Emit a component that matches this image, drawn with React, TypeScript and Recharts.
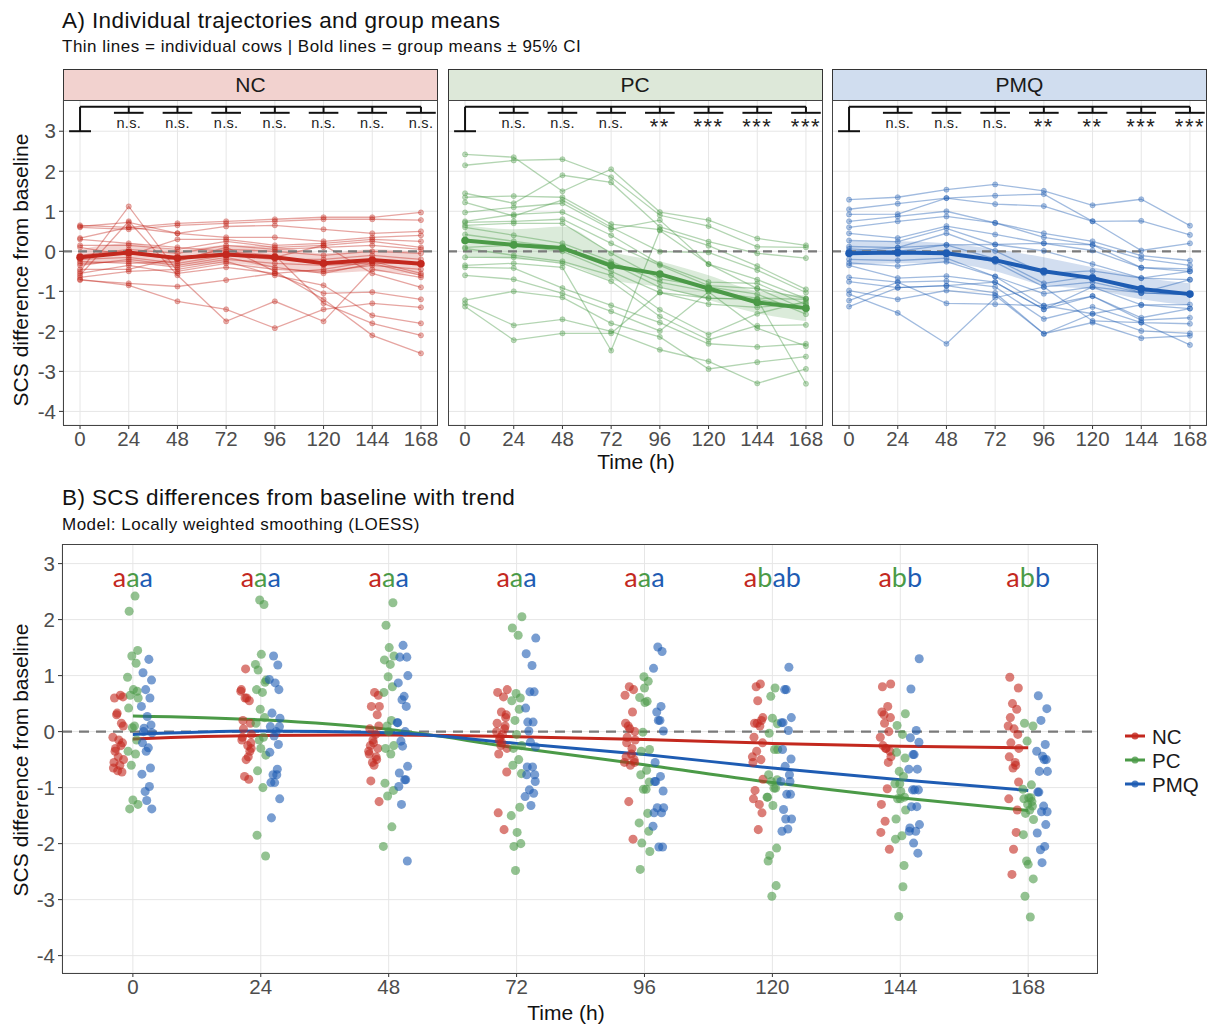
import React from 'react';
import { ComposedChart, Line, Area, Scatter, XAxis, YAxis, CartesianGrid, ReferenceLine } from 'recharts';

const times = [0, 24, 48, 72, 96, 120, 144, 168];
const yTicks = [-4, -3, -2, -1, 0, 1, 2, 3];

// individual cows, one row per cow, values at each time point
const cowsNC = [
  [0.65, 0.6, 0.7, 0.75, 0.8, 0.85, 0.85, 0.97],
  [0.6, 0.55, 0.65, 0.7, 0.75, 0.8, 0.8, 0.78],
  [0.62, 0.72, 0.45, 0.62, 0.65, 0.55, 0.45, 0.5],
  [0.33, 0.6, 0.45, 0.35, 0.35, 0.25, 0.35, 0.4],
  [0.15, 0.15, 0.05, 0.25, 0.1, 0.15, 0.25, 0.1],
  [-0.1, 0.05, -0.05, 0.15, 0.05, 0.1, 0.15, 0.05],
  [-0.15, -0.05, -0.2, 0.05, 0.0, -0.1, 0.0, -0.05],
  [-0.2, -0.15, -0.3, -0.1, -0.2, -0.2, -0.1, -0.2],
  [-0.3, -0.25, -0.4, -0.2, -0.3, -0.35, -0.3, -0.3],
  [-0.5, 1.12, -0.5, -0.3, -0.45, -0.5, -0.35, -0.45],
  [-0.55, -0.35, -0.55, -0.4, -0.55, -0.45, -0.25, -0.55],
  [-0.6, 0.75, -0.6, -1.75, -1.25, -1.75, -0.45, -0.65],
  [-0.7, -0.85, -1.25, -1.45, -1.92, -1.45, -1.3, -1.4],
  [-0.72, -0.8, -0.88, -0.72, -0.55, -1.05, -1.02, -1.2],
  [-0.65, -0.5, -0.45, -0.25, -0.6, -0.85, -1.6, -1.8],
  [-0.25, -0.3, -0.25, 0.1, -0.5, -1.2, -2.1, -2.55],
  [0.3, 0.2, 0.1, 0.0, -0.1, -1.3, -1.8, -2.1],
  [-0.45, -0.45, -0.15, -0.05, -0.15, 0.15, -0.55, -0.9],
  [0.1, -0.1, 0.3, 0.3, 0.15, 0.2, 0.3, 0.25],
  [-0.35, -0.2, -0.35, -0.15, -0.4, -0.55, -0.3, -0.6],
];

const cowsPC = [
  [2.42, 2.35, 1.5, 2.05, 0.98, 0.78, 0.32, 0.15],
  [2.15, 2.27, 2.3, 1.85, 0.9, 0.63, 0.11, 0.1],
  [1.45, 1.2, 1.9, 1.72, 0.61, 0.24, -0.05, -0.17],
  [1.35, 1.38, 1.35, 0.68, 0.54, 0.14, -0.37, -0.95],
  [1.22, 0.88, 1.28, 0.6, -0.01, -0.03, -0.47, -1.03],
  [0.97, 1.1, 1.2, 0.55, 0.78, -0.32, -0.71, -1.18],
  [0.75, 0.92, 0.98, 0.4, -0.32, -0.77, -0.8, -1.33],
  [0.72, 0.75, 0.8, 0.2, -0.35, -0.86, -0.93, -1.46],
  [0.65, 0.7, 0.7, -0.05, -0.69, -0.89, -1.07, -1.57],
  [0.6, 0.4, 0.2, -0.25, -0.77, -1.01, -1.17, -1.2],
  [0.42, 0.25, 0.1, -0.3, -0.9, -1.17, -1.2, -1.4],
  [0.1, 0.15, 0.0, -0.5, -1.03, -1.32, -1.4, -1.3],
  [0.07, -0.1, -0.25, -0.6, -1.46, -2.08, -1.56, -1.25],
  [-0.15, -0.15, -0.3, -0.75, -1.63, -2.21, -1.86, -1.84],
  [-0.35, -0.3, -0.4, -2.48, 0.52, -0.32, -0.93, -1.18],
  [-0.4, -0.42, -0.92, -1.35, -1.78, -2.31, -2.39, -2.31],
  [-0.6, -0.7, -1.05, -1.5, -1.99, -1.01, -1.92, -2.37],
  [-1.22, -1.0, -1.15, -1.8, -2.14, -2.94, -2.77, -2.63],
  [-1.3, -1.85, -1.7, -2.0, -2.46, -2.75, -3.3, -2.94],
  [-1.38, -2.22, -2.05, -2.05, -1.03, -1.17, -1.2, -3.31],
];

const cowsPMQ = [
  [1.29, 1.35, 1.54, 1.67, 1.51, 1.15, 1.3, 0.64],
  [1.05, 1.19, 1.33, 1.39, 1.43, 0.75, 0.76, 0.41],
  [0.92, 0.93, 1.33, 1.18, 1.13, 0.75, 0.02, 0.2],
  [0.75, 0.87, 1.0, 0.71, 0.45, 0.25, -0.11, -0.23],
  [0.6, 0.75, 0.87, 0.71, 0.35, 0.16, -0.19, -0.35],
  [0.45, 0.33, 0.63, 0.42, 0.2, 0.02, -0.41, -0.44],
  [0.27, 0.24, 0.57, 0.17, 0.01, -0.32, -0.67, -0.5],
  [0.12, 0.09, 0.45, 0.01, -0.55, -0.49, -0.67, -0.71],
  [0.06, 0.0, 0.16, -0.19, -0.8, -0.62, -1.04, -0.71],
  [-0.02, -0.08, 0.0, -0.27, -0.89, -0.77, -1.04, -1.08],
  [-0.2, -0.23, -0.17, -0.63, -1.06, -0.89, -1.34, -1.33],
  [-0.29, -0.37, -0.26, -0.63, -1.36, -1.12, -1.66, -1.43],
  [-0.35, -0.67, -0.62, -0.77, -1.45, -1.12, -1.72, -1.66],
  [-0.65, -0.77, -0.74, -0.89, -1.69, -1.39, -1.78, -1.81],
  [-0.76, -0.91, -0.86, -1.04, -2.06, -1.56, -1.99, -2.05],
  [-0.98, -1.2, -0.98, -1.1, -2.06, -1.78, -2.17, -2.11],
  [-1.07, -1.54, -2.31, -1.16, -0.89, -1.74, -1.78, -2.34],
  [-1.23, -0.77, -1.3, -1.32, -1.36, -1.56, -1.34, -1.43],
  [-1.38, -0.91, -0.86, -0.77, -1.45, -0.89, -1.04, -1.08],
  [0.0, 0.09, 0.16, 0.17, 0.2, 0.16, -0.41, -0.5],
];

// group means and 95% CI
const meanNC = [-0.15, -0.03, -0.17, -0.08, -0.15, -0.3, -0.22, -0.31];
const loNC = [-0.35, -0.25, -0.37, -0.3, -0.42, -0.55, -0.5, -0.6];
const hiNC = [0.05, 0.2, 0.03, 0.15, 0.12, -0.05, 0.05, -0.02];
const meanPC = [0.27, 0.16, 0.08, -0.36, -0.57, -0.93, -1.28, -1.42];
const loPC = [-0.15, -0.2, -0.3, -0.72, -0.9, -1.22, -1.55, -1.75];
const hiPC = [0.65, 0.55, 0.62, 0.0, -0.25, -0.6, -1.0, -1.1];
const meanPMQ = [-0.05, -0.03, -0.05, -0.22, -0.5, -0.67, -0.94, -1.07];
const loPMQ = [-0.35, -0.3, -0.3, -0.5, -0.85, -0.95, -1.2, -1.35];
const hiPMQ = [0.25, 0.25, 0.2, 0.05, -0.15, -0.4, -0.65, -0.8];

// LOESS trend (panel B)
const loessNC = [-0.13, -0.07, -0.06, -0.09, -0.14, -0.21, -0.26, -0.29];
const loessPC = [0.28, 0.21, 0.04, -0.29, -0.59, -0.91, -1.18, -1.41];
const loessPMQ = [-0.05, 0.01, -0.02, -0.21, -0.41, -0.65, -0.86, -1.05];

// significance vs baseline
const sigNC = ['', 'n.s.', 'n.s.', 'n.s.', 'n.s.', 'n.s.', 'n.s.', 'n.s.'];
const sigPC = ['', 'n.s.', 'n.s.', 'n.s.', '**', '***', '***', '***'];
const sigPMQ = ['', 'n.s.', 'n.s.', 'n.s.', '**', '**', '***', '***'];

// compact letter display
const lettersNC = ['a', 'a', 'a', 'a', 'a', 'a', 'a', 'a'];
const lettersPC = ['a', 'a', 'a', 'a', 'a', 'b', 'b', 'b'];
const lettersPMQ = ['a', 'a', 'a', 'a', 'a', 'ab', 'b', 'b'];

const jitter = [0.4, -0.7, 0.9, -0.2, 0.6, -1.0, 0.1, 0.8, -0.5, 1.0, -0.8, 0.3, -0.1, 0.7, -0.9, 0.5, -0.3, 0.0, 0.95, -0.6];

const FONT = '"Liberation Sans", Arial, sans-serif';
const col = { NC: '#C3281E', PC: '#4B9A47', PMQ: '#1E5CB3' };
const strip = { NC: '#F2D2CF', PC: '#DDE8D9', PMQ: '#D0DDEF' };
const TICK = { fontSize: 20.5, fill: '#4D4D4D', fontFamily: FONT };

const groupsA = [
  { name: 'NC', cows: cowsNC, mean: meanNC, lo: loNC, hi: hiNC, sig: sigNC, left: 63 },
  { name: 'PC', cows: cowsPC, mean: meanPC, lo: loPC, hi: hiPC, sig: sigPC, left: 447.5 },
  { name: 'PMQ', cows: cowsPMQ, mean: meanPMQ, lo: loPMQ, hi: hiPMQ, sig: sigPMQ, left: 832 },
];

const PW = 375, PH = 325, PTOP = 100;

const SigText = (p: any) => {
  const s = p.payload.label;
  const stars = s.indexOf('*') >= 0;
  return (
    <text x={p.cx} y={p.cy + (stars ? 11 : 5)} textAnchor="middle" fontSize={stars ? 22 : 14.5}
      letterSpacing={stars ? 1.5 : 0.3} fontFamily={FONT} fill="#222">{s}</text>
  );
};

function Facet({ g, showY }: { g: any; showY: boolean }) {
  const c = col[g.name];
  const rows = times.map((t, i) => {
    const r: any = { t, mean: g.mean[i], ci: [g.lo[i], g.hi[i]] };
    g.cows.forEach((cw: number[], k: number) => { r['c' + k] = cw[i]; });
    return r;
  });
  const sigRows = times.slice(1).map((t, i) => ({ t, y: 3.2, label: g.sig[i + 1] }));
  const bTop = 3.61, bLow = 3.46;
  const chartLeft = showY ? g.left - 40 : g.left;
  return (
    <>
      <div style={{ position: 'absolute', left: g.left, top: 69, width: PW, height: 32, boxSizing: 'border-box',
        background: strip[g.name], border: '1px solid #333', fontFamily: FONT, fontSize: 21, color: '#1a1a1a',
        textAlign: 'center', lineHeight: '30px' }}>{g.name}</div>
      <div style={{ position: 'absolute', left: chartLeft, top: PTOP }}>
        <ComposedChart width={PW + (showY ? 40 : 0)} height={PH + 32} data={rows}
          margin={{ top: 0, right: 0, bottom: 0, left: 0 }}>
          <CartesianGrid stroke="#E6E6E6" strokeWidth={1} />
          <XAxis dataKey="t" type="number" domain={[-8.4, 176.4]} ticks={times} interval={0}
            tick={TICK} tickSize={4} tickMargin={2}
            tickLine={{ stroke: '#333' }} axisLine={false} height={32} allowDataOverflow />
          <YAxis type="number" domain={[-4.34, 3.78]} ticks={yTicks} interval={0} width={40} hide={!showY}
            tick={TICK} tickSize={4} tickMargin={3}
            tickLine={{ stroke: '#333' }} axisLine={false} allowDataOverflow />
          <Area dataKey="ci" type="monotone" fill={c} fillOpacity={0.2} stroke="none" isAnimationActive={false} />
          {g.cows.map((_: any, k: number) => (
            <Line key={k} dataKey={'c' + k} type="linear" stroke={c} strokeOpacity={0.42} strokeWidth={1.3}
              dot={{ r: 2.6, fill: c, fillOpacity: 0.35, stroke: c, strokeOpacity: 0.35, strokeWidth: 0.8 }}
              activeDot={false} isAnimationActive={false} />
          ))}
          <ReferenceLine y={0} stroke="#7A7A7A" strokeWidth={2.2} strokeDasharray="9 6" />
          <Line dataKey="mean" type="linear" stroke={c} strokeWidth={4}
            dot={{ r: 3.8, fill: c, stroke: c, strokeWidth: 0 }} activeDot={false} isAnimationActive={false} />
          <ReferenceLine segment={[{ x: 0, y: bTop }, { x: 168, y: bTop }]} stroke="#111" strokeWidth={2} />
          <ReferenceLine segment={[{ x: 0, y: bTop }, { x: 0, y: 3 }]} stroke="#111" strokeWidth={2} />
          <ReferenceLine segment={[{ x: -5.4, y: 3 }, { x: 5.4, y: 3 }]} stroke="#111" strokeWidth={2} />
          {times.slice(1).map((t) => (
            <ReferenceLine key={'v' + t} segment={[{ x: t, y: bTop }, { x: t, y: bLow }]} stroke="#111" strokeWidth={2} />
          ))}
          {times.slice(1).map((t) => (
            <ReferenceLine key={'h' + t} segment={[{ x: t - 7.3, y: bLow }, { x: t + 7.3, y: bLow }]}
              stroke="#111" strokeWidth={2} ifOverflow="visible" />
          ))}
          <Scatter data={sigRows} dataKey="y" shape={SigText} isAnimationActive={false} />
        </ComposedChart>
      </div>
      <div style={{ position: 'absolute', left: g.left, top: PTOP, width: PW, height: PH + 0.5, boxSizing: 'border-box',
        border: '1px solid #444', pointerEvents: 'none' }} />
    </>
  );
}

const groupsB = [
  { name: 'NC', cows: cowsNC, loess: loessNC, off: -2.75 },
  { name: 'PC', cows: cowsPC, loess: loessPC, off: 0 },
  { name: 'PMQ', cows: cowsPMQ, loess: loessPMQ, off: 2.6 },
];

const LetterText = (p: any) => {
  const l = p.payload.letters;
  return (
    <text x={p.cx} y={p.cy + 9} textAnchor="middle" fontSize={27} fontFamily='Lato, "Open Sans", sans-serif'>
      <tspan fill={col.NC}>{l[0]}</tspan>
      <tspan fill={col.PC}>{l[1]}</tspan>
      <tspan fill={col.PMQ}>{l[2]}</tspan>
    </text>
  );
};

function PanelB() {
  const letterRows = times.map((t, i) => ({ x: t, y: 2.75, letters: [lettersNC[i], lettersPC[i], lettersPMQ[i]] }));
  return (
    <>
      <div style={{ position: 'absolute', left: 22, top: 544 }}>
        <ComposedChart width={1076} height={461} margin={{ top: 0, right: 0, bottom: 0, left: 0 }}>
          <CartesianGrid stroke="#E6E6E6" strokeWidth={1} />
          <XAxis dataKey="x" type="number" domain={[-13.3, 181.1]} ticks={times} interval={0}
            tick={TICK} tickSize={4} tickMargin={2}
            tickLine={{ stroke: '#333' }} axisLine={false} height={32} allowDataOverflow />
          <YAxis type="number" domain={[-4.31, 3.35]} ticks={yTicks} interval={0} width={40}
            tick={TICK} tickSize={4} tickMargin={3}
            tickLine={{ stroke: '#333' }} axisLine={false} allowDataOverflow />
          <ReferenceLine y={0} stroke="#7A7A7A" strokeWidth={2.4} strokeDasharray="10 7" />
          {groupsB.map((g) => {
            const pts: any[] = [];
            times.forEach((t, i) => g.cows.forEach((cw: number[], k: number) => {
              pts.push({ x: t + g.off + jitter[(k + 3 * i) % jitter.length], y: cw[i] });
            }));
            return (
              <Scatter key={'s' + g.name} data={pts} dataKey="y" fill={col[g.name]} fillOpacity={0.6}
                shape="circle" isAnimationActive={false} legendType="none" />
            );
          })}
          {groupsB.map((g) => (
            <Line key={'l' + g.name} data={times.map((t, i) => ({ x: t, y: g.loess[i] }))} dataKey="y"
              type="monotone" stroke={col[g.name]} strokeWidth={3} dot={false} activeDot={false}
              isAnimationActive={false} />
          ))}
          <Scatter data={letterRows} dataKey="y" shape={LetterText} isAnimationActive={false} />
        </ComposedChart>
      </div>
      <div style={{ position: 'absolute', left: 62, top: 544, width: 1036, height: 429.5, boxSizing: 'border-box',
        border: '1px solid #444', pointerEvents: 'none' }} />
    </>
  );
}

function Legend() {
  return (
    <svg style={{ position: 'absolute', left: 1115, top: 722 }} width={95} height={80}>
      {groupsB.map((g, i) => (
        <g key={g.name} transform={`translate(0, ${14 + i * 24})`}>
          <line x1={10} x2={30} y1={0} y2={0} stroke={col[g.name]} strokeWidth={3} />
          <circle cx={20} cy={0} r={3.5} fill={col[g.name]} opacity={0.8} />
          <text x={37} y={7.5} fontSize={20.5} fontFamily={FONT} fill="#1a1a1a">{g.name}</text>
        </g>
      ))}
    </svg>
  );
}

const txt = (extra: any) => ({ position: 'absolute' as const, fontFamily: FONT, color: '#111', whiteSpace: 'nowrap' as const, ...extra });

export default function App() {
  return (
    <div style={{ position: 'absolute', left: 0, top: 0, width: 1210, height: 1024, background: '#fff', overflow: 'hidden' }}>
      <div style={txt({ left: 62, top: 8, fontSize: 22.5, letterSpacing: 0.4 })}>A) Individual trajectories and group means</div>
      <div style={txt({ left: 62, top: 37, fontSize: 17, letterSpacing: 0.5 })}>Thin lines = individual cows | Bold lines = group means ± 95% CI</div>
      {groupsA.map((g, i) => <Facet key={g.name} g={g} showY={i === 0} />)}
      <div style={txt({ left: 636, top: 450, fontSize: 21, transform: 'translateX(-50%)' })}>Time (h)</div>
      <div style={txt({ left: 21, top: 270, fontSize: 21, transform: 'translate(-50%, -50%) rotate(-90deg)' })}>SCS difference from baseline</div>

      <div style={txt({ left: 62, top: 485, fontSize: 22.5, letterSpacing: 0.4 })}>B) SCS differences from baseline with trend</div>
      <div style={txt({ left: 62, top: 515, fontSize: 17, letterSpacing: 0.5 })}>Model: Locally weighted smoothing (LOESS)</div>
      <PanelB />
      <Legend />
      <div style={txt({ left: 566, top: 1001, fontSize: 21, transform: 'translateX(-50%)' })}>Time (h)</div>
      <div style={txt({ left: 21, top: 760, fontSize: 21, transform: 'translate(-50%, -50%) rotate(-90deg)' })}>SCS difference from baseline</div>
    </div>
  );
}
